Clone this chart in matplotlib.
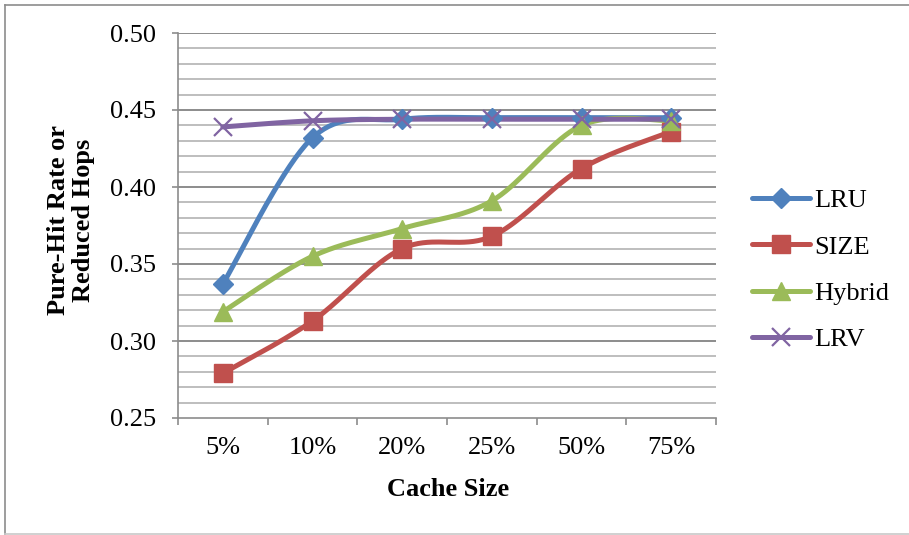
import numpy as np
import matplotlib
matplotlib.use("Agg")
import matplotlib.pyplot as plt
from matplotlib.lines import Line2D

# Cache sizes and measured pure-hit rate / reduced hops
categories = ["5%", "10%", "20%", "25%", "50%", "75%"]
lru = [0.337, 0.432, 0.444, 0.445, 0.445, 0.445]
size = [0.279, 0.313, 0.360, 0.368, 0.412, 0.436]
hybrid = [0.319, 0.355, 0.373, 0.391, 0.440, 0.443]
lrv = [0.439, 0.443, 0.444, 0.444, 0.444, 0.444]
series_names = ["LRU", "SIZE", "Hybrid", "LRV"]
y_ticks = [0.25, 0.30, 0.35, 0.40, 0.45, 0.50]

plt.rcParams["font.family"] = ["Liberation Serif", "DejaVu Serif"]
FS = 19


def smooth(xs, ys, n=40):
    """Bezier smoothing through every point (Catmull-Rom style)."""
    p = np.column_stack([xs, ys]).astype(float)
    ext = np.vstack([p[0], p, p[-1]])
    out = []
    t = np.linspace(0, 1, n)[:, None]
    for i in range(len(p) - 1):
        p0, p1, p2, p3 = ext[i], ext[i + 1], ext[i + 2], ext[i + 3]
        b1 = p1 + (p2 - p0) / 6.0
        b2 = p2 - (p3 - p1) / 6.0
        seg = ((1 - t) ** 3) * p1 + 3 * ((1 - t) ** 2) * t * b1 \
            + 3 * (1 - t) * t ** 2 * b2 + t ** 3 * p2
        out.append(seg if i == 0 else seg[1:])
    c = np.vstack(out)
    return c[:, 0], c[:, 1]


W, H = 909, 535
fig = plt.figure(figsize=(W / 100, H / 100), dpi=100)
ax = fig.add_axes([178 / W, 1 - 418 / H, (716 - 178) / W, (418 - 33) / H])

x = np.arange(len(categories))
colors = ["#4F81BD", "#C0504D", "#9BBB59", "#8064A2"]
markers = ["D", "s", "^", "x"]
msizes = [10.5, 13, 13, 13]
data = [lru, size, hybrid, lrv]

handles = []
for vals, col, mk, ms, name in zip(data, colors, markers, msizes, series_names):
    sx, sy = smooth(x, vals)
    ax.plot(sx, sy, color=col, lw=3.6, solid_capstyle="round", zorder=3)
    if mk == "x":
        ax.plot(x, vals, ls="none", marker=mk, ms=ms, mew=1.6, color=col, zorder=4)
    else:
        ax.plot(x, vals, ls="none", marker=mk, ms=ms, mfc=col, mec=col, zorder=4)
    handles.append(Line2D([], [], color=col, lw=3.6, marker=mk, ms=ms,
                          mew=1.6 if mk == "x" else 1, mfc=col, mec=col,
                          solid_capstyle="round"))

ax.set_xlim(-0.5, len(categories) - 0.5)
ax.set_ylim(0.25, 0.50)

# gridlines: minor every 0.01, major every 0.05
for v in np.arange(0.26, 0.50, 0.01):
    if abs(round(v / 0.05) * 0.05 - v) > 1e-6:
        ax.axhline(v, color="#BEBEBE", lw=1.4, zorder=1)
for v in y_ticks[1:]:
    ax.axhline(v, color="#8C8C8C", lw=1.4, zorder=1)

ax.set_yticks(y_ticks)
ax.set_yticklabels([f"{v:.2f}" for v in y_ticks])
ax.set_xticks(x)
ax.set_xticklabels(categories)
ax.set_xticks(np.arange(-0.5, len(categories), 1.0), minor=True)
ax.tick_params(axis="x", which="major", length=0, pad=14, labelsize=FS)
ax.tick_params(axis="x", which="minor", length=5, width=1.2, color="#8C8C8C",
               direction="out")
ax.tick_params(axis="y", length=4.5, width=1.2, color="#8C8C8C", pad=11,
               labelsize=FS, direction="out")

for side in ["top", "right"]:
    ax.spines[side].set_visible(False)
for side in ["left", "bottom"]:
    ax.spines[side].set_color("#8C8C8C")
    ax.spines[side].set_linewidth(1.2)

# axis titles
fig.text(448 / W, 1 - 489 / H, "Cache Size", fontsize=FS, fontweight="bold",
         ha="center", va="center")
fig.text(71 / W, 1 - 220 / H, "Pure-Hit Rate or\nReduced Hops", fontsize=FS,
         fontweight="bold", ha="center", va="center", rotation=90,
         linespacing=1.12, multialignment="center")

fig.legend(handles, series_names, loc="center left",
           bbox_to_anchor=(752 / W, 1 - 270 / H), frameon=False,
           fontsize=FS, handlelength=2.2, handletextpad=0.15,
           labelspacing=0.86, borderaxespad=0, borderpad=0)

# chart frame
fig.add_artist(Line2D([5 / W, 5 / W], [1 - 5 / H, 1 - 534 / H],
                      transform=fig.transFigure, color="#8C8C8C", lw=1.2))
fig.add_artist(Line2D([5 / W, 1], [1 - 5 / H, 1 - 5 / H],
                      transform=fig.transFigure, color="#8C8C8C", lw=1.2))
fig.add_artist(Line2D([5 / W, 1], [1 - 534 / H, 1 - 534 / H],
                      transform=fig.transFigure, color="#C8C8C8", lw=1.2))

fig.savefig("out.png", dpi=100)
